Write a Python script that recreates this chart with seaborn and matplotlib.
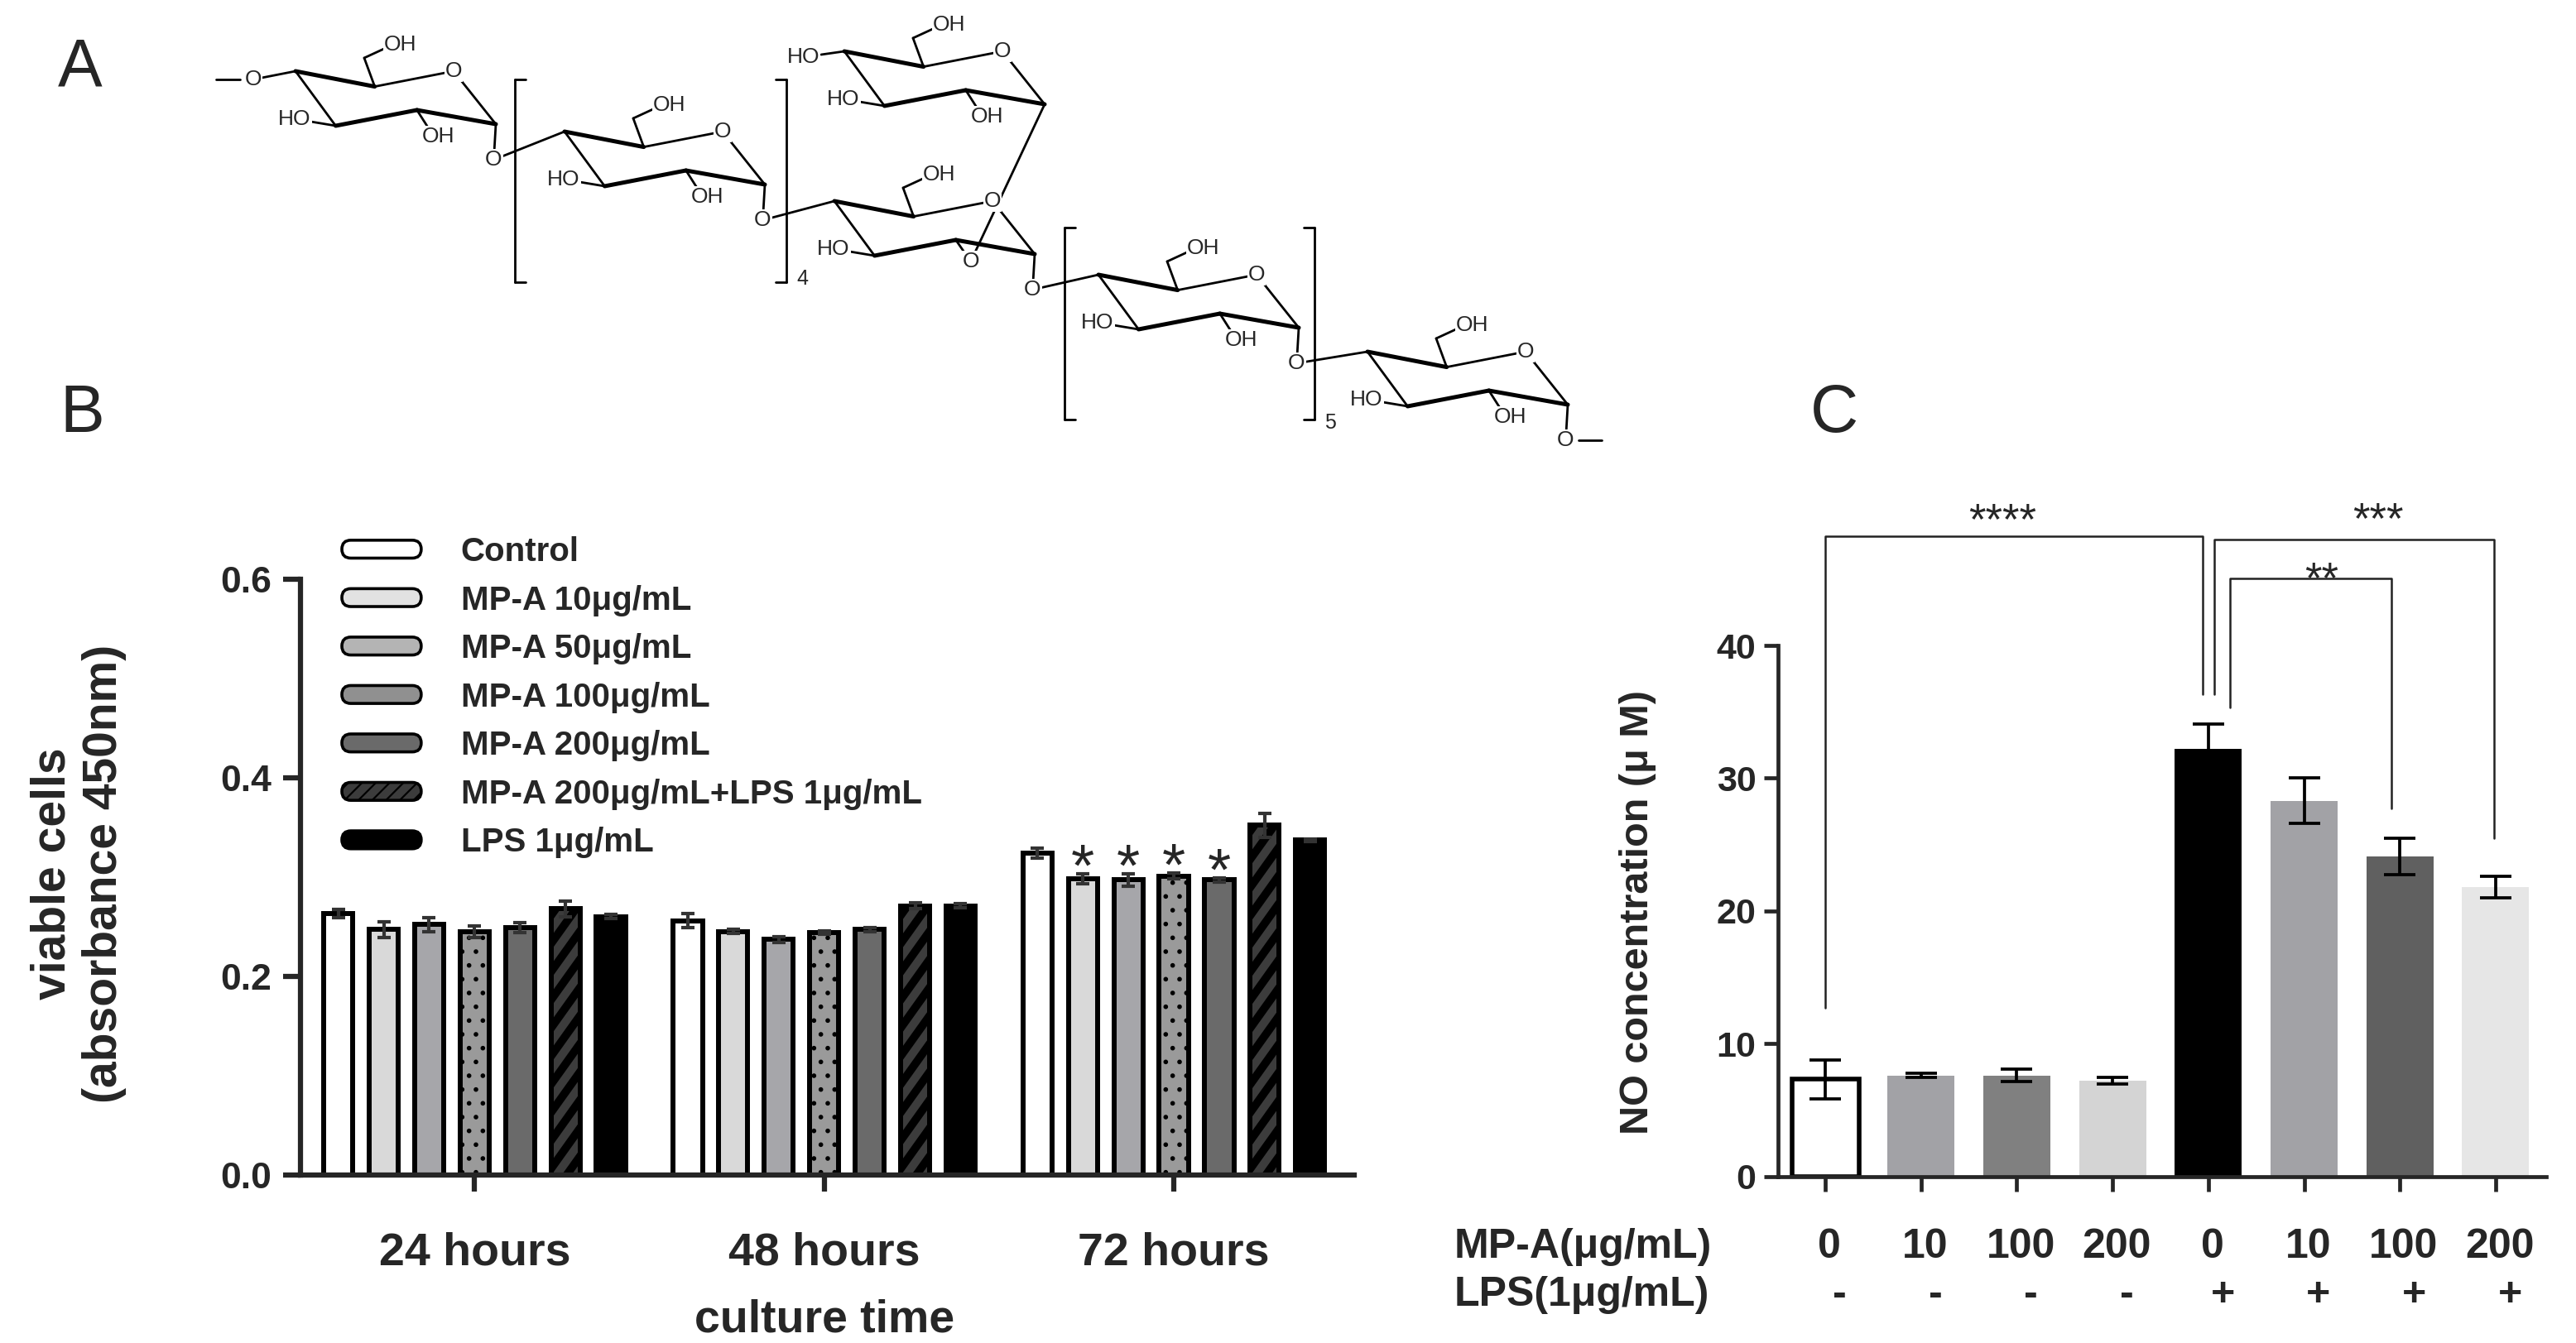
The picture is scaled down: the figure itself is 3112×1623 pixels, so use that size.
import matplotlib
matplotlib.use("Agg")
import matplotlib.pyplot as plt
import matplotlib.transforms as mtransforms
from matplotlib.lines import Line2D
from matplotlib.patches import Patch, FancyBboxPatch
from matplotlib.legend_handler import HandlerPatch
import numpy as np
import pandas as pd
import seaborn as sns

# ---------------- data ----------------
# Panel B: viable cells (absorbance 450nm)
times = ["24 hours", "48 hours", "72 hours"]
treatments = ["Control", "MP-A 10μg/mL", "MP-A 50μg/mL", "MP-A 100μg/mL",
              "MP-A 200μg/mL", "MP-A 200μg/mL+LPS 1μg/mL", "LPS 1μg/mL"]
viab_24h = [0.263, 0.247, 0.252, 0.245, 0.249, 0.268, 0.260]
viab_48h = [0.256, 0.245, 0.237, 0.244, 0.247, 0.271, 0.271]
viab_72h = [0.324, 0.298, 0.297, 0.301, 0.297, 0.352, 0.337]
sem_24h = [0.004, 0.008, 0.007, 0.006, 0.005, 0.008, 0.002]
sem_48h = [0.007, 0.002, 0.003, 0.002, 0.002, 0.003, 0.002]
sem_72h = [0.005, 0.005, 0.006, 0.003, 0.002, 0.012, 0.001]
stars_72h = ["", "*", "*", "*", "*", "", ""]

# Panel C: NO concentration (μM)
mpa_dose = ["0", "10", "100", "200", "0", "10", "100", "200"]
lps_sign = ["-", "-", "-", "-", "+", "+", "+", "+"]
no_conc = [7.3, 7.6, 7.6, 7.2, 32.2, 28.3, 24.1, 21.8]
no_sem = [1.45, 0.15, 0.45, 0.27, 1.85, 1.7, 1.4, 0.8]

# styles
b_colors = ["#ffffff", "#d9d9d9", "#a6a6aa", "#9a9a9a", "#6a6a6a", "#3c3c3c", "#000000"]
b_legend_colors = ["#ffffff", "#e2e2e2", "#b4b4b4", "#909090", "#6a6a6a", "#3c3c3c", "#000000"]
c_colors = ["#ffffff", "#a2a2a6", "#808080", "#d4d4d4", "#000000", "#a2a2a6", "#606060", "#e6e6e6"]

sns.set_style("ticks")
plt.rcParams["font.family"] = ["Liberation Sans", "DejaVu Sans"]
plt.rcParams["font.weight"] = "bold"
plt.rcParams["hatch.linewidth"] = 1.6

W, H = 3112, 1623
fig = plt.figure(figsize=(W / 100, H / 100), dpi=100)


def fig_box(left, top, right, bottom):
    # pixel box -> figure fraction rect
    return [left / W, 1 - bottom / H, (right - left) / W, (bottom - top) / H]


# ---------------- Panel A: structure ----------------
axa = fig.add_axes([0, 0, 1, 1])
axa.set_xlim(0, W)
axa.set_ylim(H, 0)
axa.axis("off")

ring_c4 = [(357, 86), (682, 159), (1008, 243), (1020, 62), (1327, 332), (1652, 425)]
ring_shape = {"C4": (0, 0), "C3": (48.5, 66), "C2": (146.7, 47), "C1": (242, 64),
              "O5": (191, 0), "C5": (95.7, 18.6), "C6": (83, -16)}


def bond(p, q, lw=2.0):
    axa.plot([p[0], q[0]], [p[1], q[1]], color="black", lw=lw,
             solid_capstyle="round", zorder=2)


def atom(p, s, ha="center", size=19):
    axa.text(p[0], p[1], s, ha=ha, va="center", fontsize=size, fontweight="normal",
             zorder=3, bbox=dict(boxstyle="square,pad=0.04", fc="white", ec="none"))


def ring(c4, oh2=True, ho4=False):
    x0, y0 = c4
    P = {k: (x0 + dx, y0 + dy) for k, (dx, dy) in ring_shape.items()}
    bond(P["C4"], P["C3"])
    bond(P["C3"], P["C2"], 3.6)
    bond(P["C2"], P["C1"], 3.6)
    bond(P["C1"], P["O5"])
    bond(P["O5"], P["C5"])
    bond(P["C5"], P["C4"], 3.6)
    bond(P["C5"], P["C6"])
    c6 = P["C6"]
    bond(c6, (c6[0] + 26, c6[1] - 12))
    atom((c6[0] + 24, c6[1] - 16), "OH", ha="left")
    atom(P["O5"], "O")
    c3 = P["C3"]
    bond(c3, (c3[0] - 30, c3[1] - 5))
    atom((c3[0] - 30, c3[1] - 8), "HO", ha="right")
    if oh2:
        c2 = P["C2"]
        bond(c2, (c2[0] + 14, c2[1] + 22))
        atom((c2[0] + 6, c2[1] + 32), "OH", ha="left")
    if ho4:
        bond(P["C4"], (x0 - 28, y0 + 4))
        atom((x0 - 30, y0 + 7), "HO", ha="right")
    return P


rings = [ring(c, oh2=(i != 2), ho4=(i == 3)) for i, c in enumerate(ring_c4)]

# left end
bond((261, 96), (290, 96))
bond((306, 96), rings[0]["C4"])
atom((306, 96), "O")
# glycosidic links
for a, b in [(0, 1), (1, 2), (2, 4), (4, 5)]:
    c1 = rings[a]["C1"]
    o = (c1[0] - 2.5, c1[1] + 43)
    bond(c1, o)
    bond(o, rings[b]["C4"])
    atom(o, "O")
# branch
c2 = rings[2]["C2"]
o2 = (c2[0] + 18, c2[1] + 26)
bond(c2, o2)
bond(o2, rings[3]["C1"])
atom(o2, "O")
# right end
c1 = rings[5]["C1"]
o_end = (c1[0] - 2.5, c1[1] + 43)
bond(c1, o_end)
bond((o_end[0] + 16, o_end[1]), (o_end[0] + 44, o_end[1]))
atom(o_end, "O")


def sq_bracket(x, y0, y1, d):
    bond((x, y0), (x, y1))
    bond((x, y0), (x + 13 * d, y0))
    bond((x, y1), (x + 13 * d, y1))


sq_bracket(622, 96, 341, 1)
sq_bracket(950, 96, 341, -1)
axa.text(962, 337, "4", fontsize=18, fontweight="normal", ha="left", va="center")
sq_bracket(1286, 275, 507, 1)
sq_bracket(1588, 275, 507, -1)
axa.text(1600, 511, "5", fontsize=18, fontweight="normal", ha="left", va="center")

for letter, x, y in [("A", 97, 104), ("B", 99, 522), ("C", 2216, 522)]:
    axa.text(x, y, letter, fontsize=58, fontweight="normal", ha="center", va="baseline")

# ---------------- Panel B ----------------
axb = fig.add_axes(fig_box(363, 700, 1636, 1419.5))
axb.set_facecolor("none")
df_b = pd.DataFrame({
    "time": np.repeat(times, len(treatments)),
    "treatment": treatments * len(times),
    "value": viab_24h + viab_48h + viab_72h,
})
sns.barplot(data=df_b, x="time", y="value", hue="treatment", order=times,
            hue_order=treatments, palette=b_colors, saturation=1, width=0.91,
            gap=0.36, edgecolor="black", linewidth=4.3, errorbar=None,
            legend=False, ax=axb)

axb.set_xlim(-0.498, 2.516)
axb.set_ylim(0, 0.6)
axb.set_yticks([0, 0.2, 0.4, 0.6])
axb.set_yticklabels(["0.0", "0.2", "0.4", "0.6"])
sns.despine(ax=axb)
for sp in ["left", "bottom"]:
    axb.spines[sp].set_linewidth(4.5)
axb.tick_params(axis="y", length=15, width=4.5, pad=10, labelsize=32)
axb.tick_params(axis="x", length=14.5, width=4.5, pad=35, labelsize=40)
axb.set_xlabel("")
axb.set_ylabel("viable cells\n(absorbance 450nm)", fontsize=41, fontweight="bold")
axb.yaxis.set_label_coords(-0.165, 0.505)
axb.text(1, 1 - 1610 / H, "culture time", fontsize=40, ha="center", va="baseline",
         transform=mtransforms.blended_transform_factory(axb.transData, fig.transFigure))

sems = [sem_24h, sem_48h, sem_72h]
bar_groups = list(axb.containers)
fig.canvas.draw()
for j, bars in enumerate(bar_groups):
    for bar in bars:
        xc = bar.get_x() + bar.get_width() / 2
        i = int(round(xc))
        h = bar.get_height()
        axb.errorbar(xc, h, yerr=sems[i][j], fmt="none", ecolor="#333333",
                     elinewidth=3, capsize=6, capthick=3, zorder=4)
        if j == 3:
            bar.set_hatch(".")
        if j == 5:
            # diagonal stripes, clipped to the bar outline
            ext = bar.get_window_extent()
            per = 34
            for k in range(-6, int(ext.height / per) + 8):
                y0 = ext.y0 + k * per
                ln = Line2D([ext.x0 - 5, ext.x1 + 5], [y0, y0 + (ext.width + 10) * 1.4],
                            transform=mtransforms.IdentityTransform(),
                            color="black", lw=7, zorder=2)
                axb.add_artist(ln)
                ln.set_clip_path(bar.get_path(), bar.get_transform())
        if i == 2 and stars_72h[j]:
            axb.text(xc, h + sems[i][j] - 0.012, stars_72h[j], ha="center",
                     va="baseline", fontsize=52, fontweight="normal")


def round_box(legend, orig_handle, xdescent, ydescent, width, height, fontsize):
    return FancyBboxPatch((-xdescent, -ydescent), width, height,
                          boxstyle="round,pad=0,rounding_size=%f" % (height * 0.5))


handles = [Patch(facecolor=c, edgecolor="black", linewidth=2.6,
                 hatch=("//" if t.endswith("+LPS 1μg/mL") else None), label=t)
           for c, t in zip(b_legend_colors, treatments)]
axb.legend(handles=handles, loc="upper left", bbox_to_anchor=(413 / W, 1 - 648 / H),
           bbox_transform=fig.transFigure, frameon=False, fontsize=29,
           handlelength=2.38, handleheight=0.45, handletextpad=1.19,
           labelspacing=0.51, borderpad=0, borderaxespad=0,
           handler_map={Patch: HandlerPatch(patch_func=round_box)})

# ---------------- Panel C ----------------
axc = fig.add_axes(fig_box(2148, 780, 3076, 1421.5))
axc.set_facecolor("none")
c_groups = [f"{d}|{s}" for d, s in zip(mpa_dose, lps_sign)]
df_c = pd.DataFrame({"group": c_groups, "no": no_conc})
sns.barplot(data=df_c, x="group", y="no", hue="group", order=c_groups,
            hue_order=c_groups, palette=c_colors, saturation=1, width=0.7,
            errorbar=None, legend=False, linewidth=0, ax=axc)
bars_c = sorted(axc.patches, key=lambda p: p.get_x())
bars_c[0].set_edgecolor("black")
bars_c[0].set_linewidth(4)
xs_c = [b.get_x() + b.get_width() / 2 for b in bars_c]
axc.errorbar(xs_c, no_conc, yerr=no_sem, fmt="none", ecolor="black",
             elinewidth=2.7, capsize=14, capthick=2.7, zorder=4)

# significance brackets: (x_left, x_right, y_left, y_right, y_top)
brackets = [(0.0, 3.94, 12.7, 36.3, 48.2), (4.06, 6.98, 36.3, 25.5, 48.0),
            (4.23, 5.91, 35.3, 27.7, 45.05)]
sig_labels = ["****", "***", "**"]
sig_label_pos = [(1.85, 48.4), (5.77, 48.5), (5.18, 44.0)]
for (xl, xr, yl, yr, yt), lab, (lx, ly) in zip(brackets, sig_labels, sig_label_pos):
    axc.plot([xl, xl, xr, xr], [yl, yt, yt, yr], color="#222222", lw=1.8,
             clip_on=False, zorder=3)
    axc.text(lx, ly, lab, ha="center", va="baseline", fontsize=38,
             fontweight="normal", clip_on=False)

axc.set_xlim(-0.493, 7.528)
axc.set_ylim(0, 40)
axc.set_yticks([0, 10, 20, 30, 40])
axc.set_xticks(range(len(c_groups)))
axc.set_xticklabels([""] * len(c_groups))
sns.despine(ax=axc)
for sp in ["left", "bottom"]:
    axc.spines[sp].set_linewidth(3.4)
axc.tick_params(axis="y", length=12, width=3.4, pad=7, labelsize=31)
axc.tick_params(axis="x", length=13, width=3.4)
axc.set_xlabel("")
axc.set_ylabel("NO concentration (μ M)", fontsize=35, fontweight="bold")
axc.yaxis.set_label_coords(-0.158, 0.497)

tc = mtransforms.blended_transform_factory(axc.transData, fig.transFigure)
for k, (d, s) in enumerate(zip(mpa_dose, lps_sign)):
    axc.text(k + 0.04, 1 - 1519.5 / H, d, ha="center", va="baseline", fontsize=36,
             transform=tc, clip_on=False)
    axc.text(k + 0.15, 1 - 1578 / H, s, ha="center", va="baseline", fontsize=36,
             transform=tc, clip_on=False)
fig.text(1757 / W, 1 - 1519.5 / H, "MP-A(μg/mL)", ha="left", va="baseline", fontsize=36)
fig.text(1757 / W, 1 - 1578 / H, "LPS(1μg/mL)", ha="left", va="baseline", fontsize=36)

fig.savefig("out.png", dpi=100)
